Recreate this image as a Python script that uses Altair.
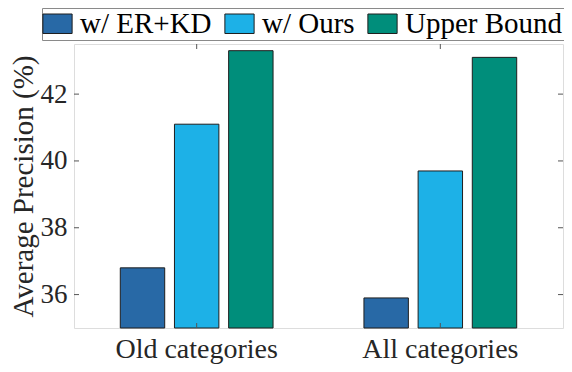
import altair as alt
import pandas as pd

categories = ["Old categories", "All categories"]
series = ["w/ ER+KD", "w/ Ours", "Upper Bound"]
old_values = [36.8, 41.1, 43.3]
all_values = [35.9, 39.7, 43.1]
y_ticks = [36, 38, 40, 42]
colors = ["#2869a6", "#1db1e7", "#008e7b"]

rows = []
for s, v in zip(series, old_values):
    rows.append({"category": categories[0], "series": s, "value": v})
for s, v in zip(series, all_values):
    rows.append({"category": categories[1], "series": s, "value": v})
df = pd.DataFrame(rows)
tick_df = pd.DataFrame({"t": y_ticks})
cat_df = pd.DataFrame({"category": categories})

W, H = 489, 284
FONT = "Liberation Serif"
TXT = "#262626"
FRAME = "#8a8a8a"
TICK = "#555555"

xscale = alt.Scale(domain=categories, paddingInner=0.373, paddingOuter=0.19)
yscale = alt.Scale(domain=[35, 43.5], nice=False, zero=False)

xaxis = alt.Axis(title=None, labelAngle=0, labelFont=FONT, labelFontSize=28,
                 labelColor=TXT, labelPadding=7, ticks=False, domain=False)
yaxis = alt.Axis(title="Average Precision (%)", values=y_ticks, grid=False,
                 ticks=False, domain=False, labelFont=FONT, labelFontSize=27,
                 labelColor=TXT, labelPadding=7, titleFont=FONT,
                 titleFontSize=29, titleFontWeight="normal", titleColor=TXT,
                 titlePadding=2)

bars = alt.Chart(df).mark_bar(stroke="#1e1e1e", strokeWidth=1).encode(
    x=alt.X("category:N", scale=xscale, sort=categories, axis=xaxis),
    xOffset=alt.XOffset("series:N", sort=series,
                        scale=alt.Scale(domain=series, paddingInner=0.18, paddingOuter=0)),
    y=alt.Y("value:Q", scale=yscale, axis=yaxis),
    y2=alt.datum(35),
    color=alt.Color("series:N", sort=series,
                    scale=alt.Scale(domain=series, range=colors),
                    legend=alt.Legend(title=None, orient="none", direction="horizontal",
                                      legendX=-32, legendY=-36,
                                      symbolType="M-1.5,-1H1.5V1H-1.5Z", symbolSize=380,
                                      symbolStrokeColor="#1e1e1e", symbolStrokeWidth=1,
                                      labelFont=FONT, labelFontSize=29, labelColor="black",
                                      labelOffset=8, columnPadding=10, padding=1,
                                      strokeColor=FRAME, fillColor="white",
                                      labelLimit=300)),
)

left_ticks = alt.Chart(tick_df).mark_rule(color=TICK).encode(
    y=alt.Y("t:Q", scale=yscale, axis=yaxis), x=alt.value(0), x2=alt.value(5))
right_ticks = alt.Chart(tick_df).mark_rule(color=TICK).encode(
    y=alt.Y("t:Q", scale=yscale, axis=yaxis), x=alt.value(W - 5), x2=alt.value(W))
top_ticks = alt.Chart(cat_df).mark_rule(color=TICK).encode(
    x=alt.X("category:N", scale=xscale, sort=categories, bandPosition=0.5, axis=xaxis),
    y=alt.value(0), y2=alt.value(5))
bot_ticks = alt.Chart(cat_df).mark_rule(color=TICK).encode(
    x=alt.X("category:N", scale=xscale, sort=categories, bandPosition=0.5, axis=xaxis),
    y=alt.value(H - 5), y2=alt.value(H))

chart = alt.layer(bars, left_ticks, right_ticks, top_ticks, bot_ticks).properties(
    width=W, height=H,
    autosize=alt.AutoSizeParams(type="none"),
    padding={"left": 66, "top": 36, "right": 1, "bottom": 36},
).configure_view(stroke=FRAME, strokeWidth=1.2).configure(background="white")

chart.save("out.html", embed_options={"renderer": "svg", "actions": False})
